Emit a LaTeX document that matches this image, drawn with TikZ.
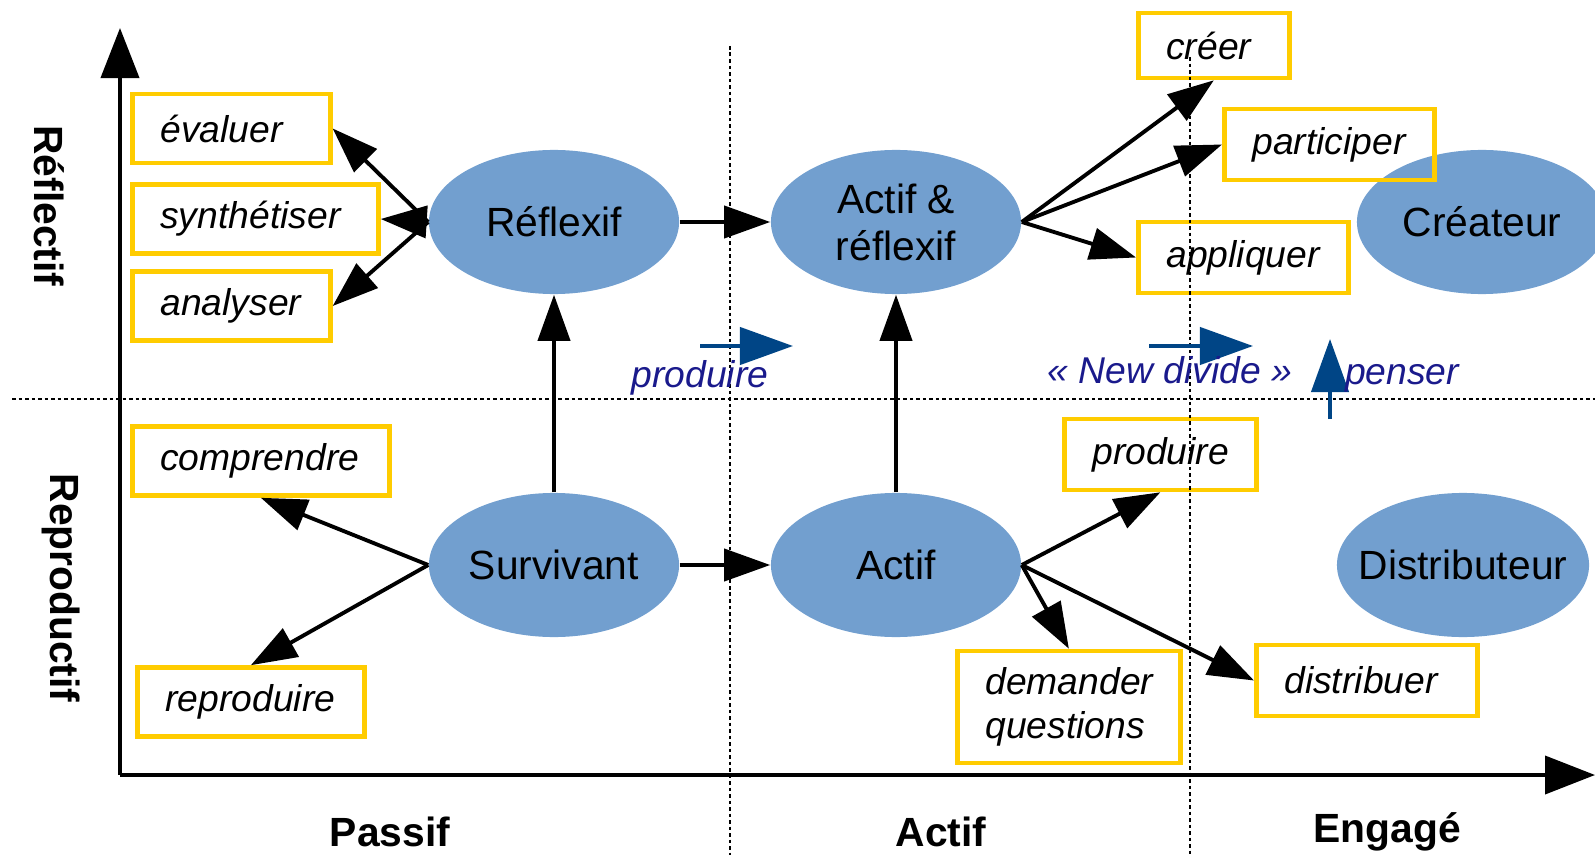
\documentclass[tikz,border=0pt]{standalone}
\usepackage{fontspec}
\setmainfont{Liberation Sans}
\usetikzlibrary{arrows.meta,positioning,shapes.geometric}
\definecolor{bleuE}{HTML}{729FCF}
\definecolor{jauneC}{HTML}{FFCC00}
\definecolor{bleuF}{HTML}{004586}
\definecolor{marine}{HTML}{1A1A8C}
\tikzset{
  profil/.style={ellipse, fill=bleuE, minimum width=2.5cm, minimum height=1.44cm, inner sep=0pt,
                 label={[font=\fontsize{11.6}{13.4}\selectfont, align=center]center:#1}},
  tache/.style={rectangle, draw=jauneC, line width=1.3pt, anchor=west, align=left,
                font=\fontsize{10.6}{12.4}\selectfont\itshape, inner xsep=0.28cm,
                text width=#1, minimum height=0.69cm},
  fleche/.style={-{Triangle[length=4.6mm, width=3.2mm]}, line width=1.1pt},
  axe/.style={-{Triangle[length=5mm, width=3.8mm]}, line width=1.1pt},
  pointille/.style={line width=0.8pt, dash pattern=on 1pt off 0.85pt},
  fbleue/.style={-{Triangle[length=5.3mm, width=3.7mm]}, line width=1.2pt, draw=bleuF},
  bleutxt/.style={font=\fontsize{10.6}{12.4}\selectfont\itshape, text=marine},
  titre/.style={font=\fontsize{11.6}{13.4}\selectfont\bfseries},
}

\begin{document}
\begin{tikzpicture}[x=0.01cm, y=-0.01cm]
  \useasboundingbox (0,0) rectangle (1595,855);
  % profils
  \node[profil={Réflexif}] (reflexif) at (554,222) {};
  \node[profil={Actif \&\\réflexif}] (actrefl) at (896,222) {};
  \node[profil={Créateur}] (createur) at (1482,222) {};
  \node[profil={Survivant}] (survivant) at (554,565) {};
  \node[profil={Actif}] (actif) at (896,565) {};
  \node[profil={Distributeur}, minimum width=2.52cm] (distributeur) at (1463,565) {};
  % taches
  \node[tache=1.42cm] (evaluer) at (130,128.5) {évaluer};
  \node[tache=1.90cm] (synth) at (130,219) {synthétiser};
  \node[tache=1.42cm] (analyser) at (130,306) {analyser};
  \node[tache=2.01cm] (comprendre) at (130,461) {comprendre};
  \node[tache=1.71cm] (reproduire) at (135,702) {reproduire};
  \node[tache=0.95cm, minimum height=0.65cm] (creer) at (1136,45.5) {créer};
  \node[tache=1.54cm, minimum height=0.71cm] (participer) at (1222,144.5) {participer};
  \node[tache=1.54cm, minimum height=0.71cm] (appliquer) at (1136,257.5) {appliquer};
  \node[tache=1.36cm, minimum height=0.71cm] (produire) at (1062,454.5) {produire};
  \node[tache=1.67cm, minimum height=1.12cm] (demander) at (955,707) {demander\\questions};
  \node[tache=1.65cm, minimum height=0.71cm] (distribuer) at (1254,680.5) {distribuer};
  % axes
  \coordinate (origine) at (120,775);
  \coordinate (haut) at (120,28);
  \coordinate (droite) at (1595,775);
  \draw[axe] (origine) -- (haut);
  \draw[axe] (origine) -- (droite);
  \node[titre, rotate=-90] (reflectif) at (49,206) {Réflectif};
  \node[titre, rotate=-90] (reproductif) at (61,588) {Reproductif};
  \node[titre] (passif) at (390,832) {Passif};
  \node[titre] (actifax) at (941,832) {Actif};
  \node[titre] (engage) at (1387,832) {Engagé};
  % separations
  \draw[pointille] (12,399) -- (1595,399);
  \draw[pointille] (730,46) -- (730,855);
  \draw[pointille] (1190,57) -- (1190,855);
  % fleches
  \draw[fleche] (reflexif.west) -- (evaluer.east);
  \draw[fleche] (reflexif.west) -- (synth.east);
  \draw[fleche] (reflexif.west) -- (analyser.east);
  \draw[fleche] (reflexif) -- (actrefl);
  \draw[fleche] (survivant) -- (reflexif);
  \draw[fleche] (actif) -- (actrefl);
  \draw[fleche] (survivant) -- (actif);
  \draw[fleche] (survivant.west) -- (comprendre.south);
  \draw[fleche] (survivant.west) -- (reproduire.north);
  \draw[fleche] (actrefl.east) -- (creer.south);
  \draw[fleche] (actrefl.east) -- (participer.west);
  \draw[fleche] (actrefl.east) -- (appliquer.west);
  \draw[fleche] (actif.east) -- (produire.south);
  \draw[fleche] (actif.east) -- (demander.north);
  \draw[fleche] (actif.east) -- (distribuer.west);
  % mentions en bleu
  \coordinate (pa) at (700,346);
  \coordinate (pb) at (793,346);
  \coordinate (na) at (1149,346);
  \coordinate (nb) at (1253,346);
  \coordinate (ea) at (1330,419);
  \coordinate (eb) at (1330,339);
  \draw[fbleue] (pa) -- (pb);
  \draw[fbleue] (na) -- (nb);
  \draw[fbleue] (ea) -- (eb);
  \node[bleutxt] (txtproduire) at (700,378) {produire};
  \node[bleutxt] (txtdivide) at (1170,370) {« New divide »};
  \node[bleutxt] (txtpenser) at (1402,378) {penser};
\end{tikzpicture}
\end{document}
